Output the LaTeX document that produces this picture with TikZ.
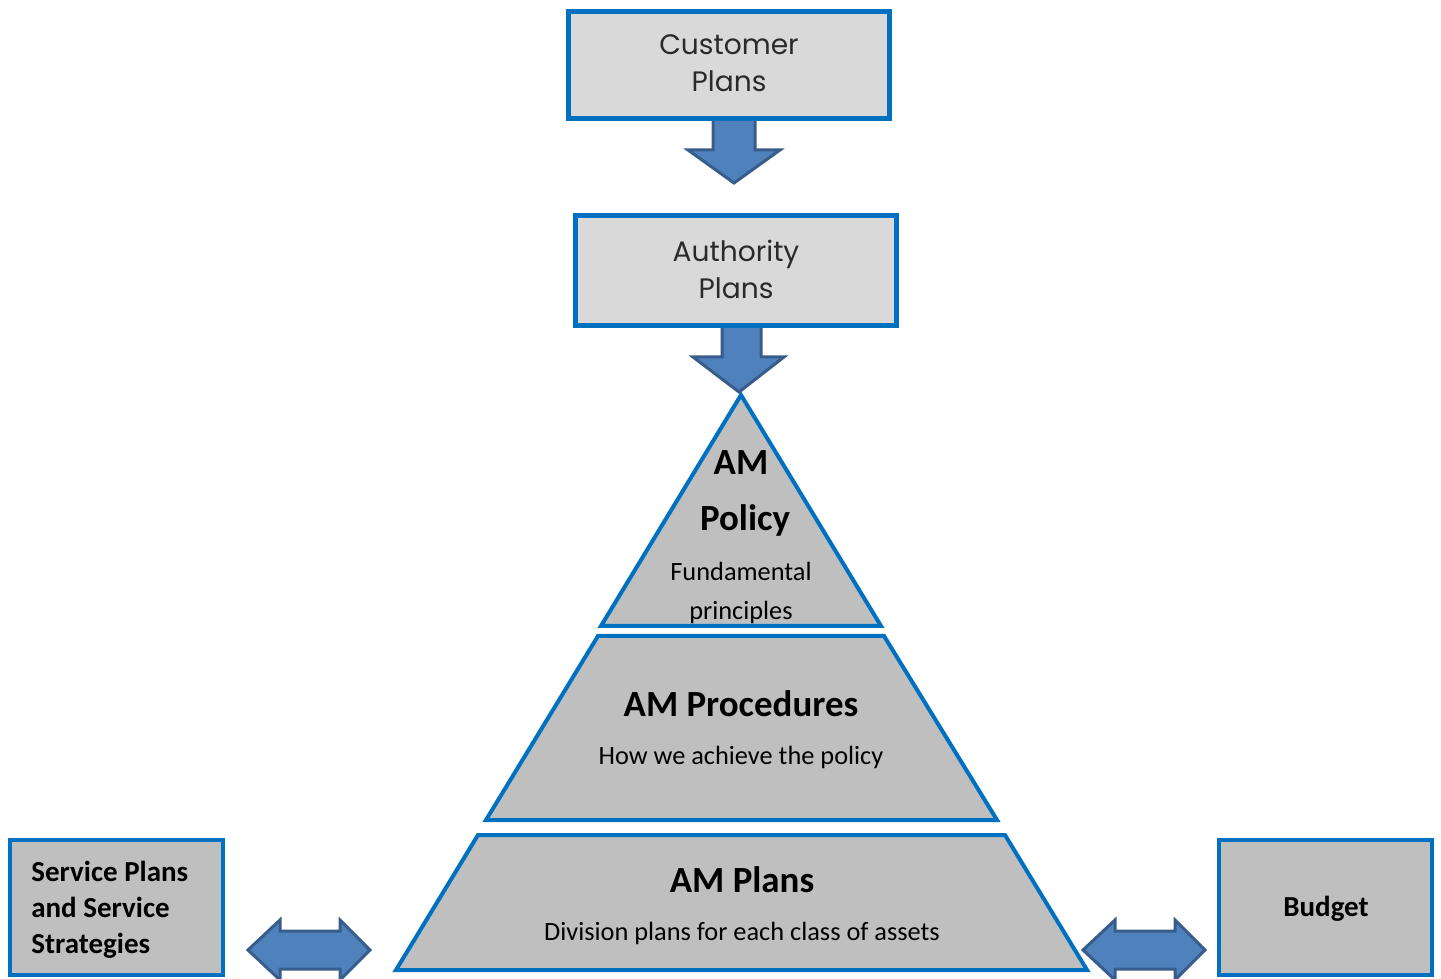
\documentclass[tikz,border=0pt]{standalone}
\usepackage{fontspec}
\setmainfont{Carlito}
\newfontfamily\thinfont{Poppins}
\definecolor{bblue}{HTML}{0070C0}
\definecolor{lgray}{HTML}{D9D9D9}
\definecolor{mgray}{HTML}{BFBFBF}
\definecolor{afill}{HTML}{4F81BD}
\definecolor{adraw}{HTML}{385D8A}
\definecolor{tgray}{HTML}{2A2A2A}
\begin{document}
\begin{tikzpicture}[x=0.02cm,y=-0.02cm,
  topbox/.style={draw=bblue,fill=lgray,line width=0.1cm,minimum width=6.42cm,inner sep=0pt},
  sidebox/.style={draw=bblue,fill=mgray,line width=0.08cm,minimum width=4.26cm,minimum height=2.7cm,inner sep=0pt},
  blockarrow/.style={fill=afill,draw=adraw,line width=0.06cm,line join=miter},
  pyr/.style={fill=mgray,draw=bblue,line width=0.08cm,line join=miter},
  thintext/.style={font=\thinfont\fontsize{16}{21}\selectfont,text=tgray,align=center},
  bigbold/.style={font=\bfseries\fontsize{21}{25}\selectfont,anchor=base},
  smalltext/.style={font=\fontsize{15}{18}\selectfont,anchor=base},
  sidetext/.style={font=\bfseries\fontsize{16.5}{20.5}\selectfont,inner sep=0pt}
]
\useasboundingbox (0,0) rectangle (1441,979);
% block arrows (drawn under boxes)
\draw[blockarrow] (713,118) -- (713,150) -- (688,150) -- (734,183) -- (780,150) -- (755,150) -- (755,118) -- cycle;
\draw[blockarrow] (722,325) -- (722,357) -- (693,357) -- (739,392) -- (784,357) -- (761,357) -- (761,325) -- cycle;
% top boxes
\node[topbox,minimum height=2.14cm] (cust) at (729,65) {};
\node[thintext] (custtxt) at (729,63) {Customer\\Plans};
\node[topbox,minimum height=2.2cm] (auth) at (736,270.5) {};
\node[thintext] (authtxt) at (736,269) {Authority\\Plans};
% pyramid
\draw[pyr] (741,395) -- (881,626) -- (601,626) -- cycle;
\draw[pyr] (598,636) -- (884,636) -- (997,820) -- (486,820) -- cycle;
\draw[pyr] (478,835) -- (1005,835) -- (1087,970) -- (396,970) -- cycle;
\node[bigbold] (am1) at (741,475) {AM};
\node[bigbold] (pol) at (745,531) {Policy};
\node[smalltext] (fund) at (741,581) {Fundamental};
\node[smalltext] (princ) at (741,620) {principles};
\node[bigbold] (proc) at (741,717) {AM Procedures};
\node[smalltext] (how) at (741,765) {How we achieve the policy};
\node[bigbold] (plans) at (742,892) {AM Plans};
\node[smalltext] (div) at (742,940) {Division plans for each class of assets};
% side boxes
\node[sidebox] (svc) at (116.5,907.5) {};
\node[sidetext,align=left,anchor=west] (svctxt) at (31,910) {Service Plans\\and Service\\Strategies};
\node[sidebox] (bud) at (1325.5,907.5) {};
\node[sidetext] (budtxt) at (1326,909) {Budget};
% double arrows
\draw[blockarrow] (248,950) -- (280,920) -- (280,931) -- (340,931) -- (340,920) -- (370,950) -- (340,980) -- (340,969) -- (280,969) -- (280,980) -- cycle;
\draw[blockarrow] (1083,950) -- (1115,920) -- (1115,931) -- (1175,931) -- (1175,920) -- (1205,950) -- (1175,980) -- (1175,969) -- (1115,969) -- (1115,980) -- cycle;
\end{tikzpicture}
\end{document}
